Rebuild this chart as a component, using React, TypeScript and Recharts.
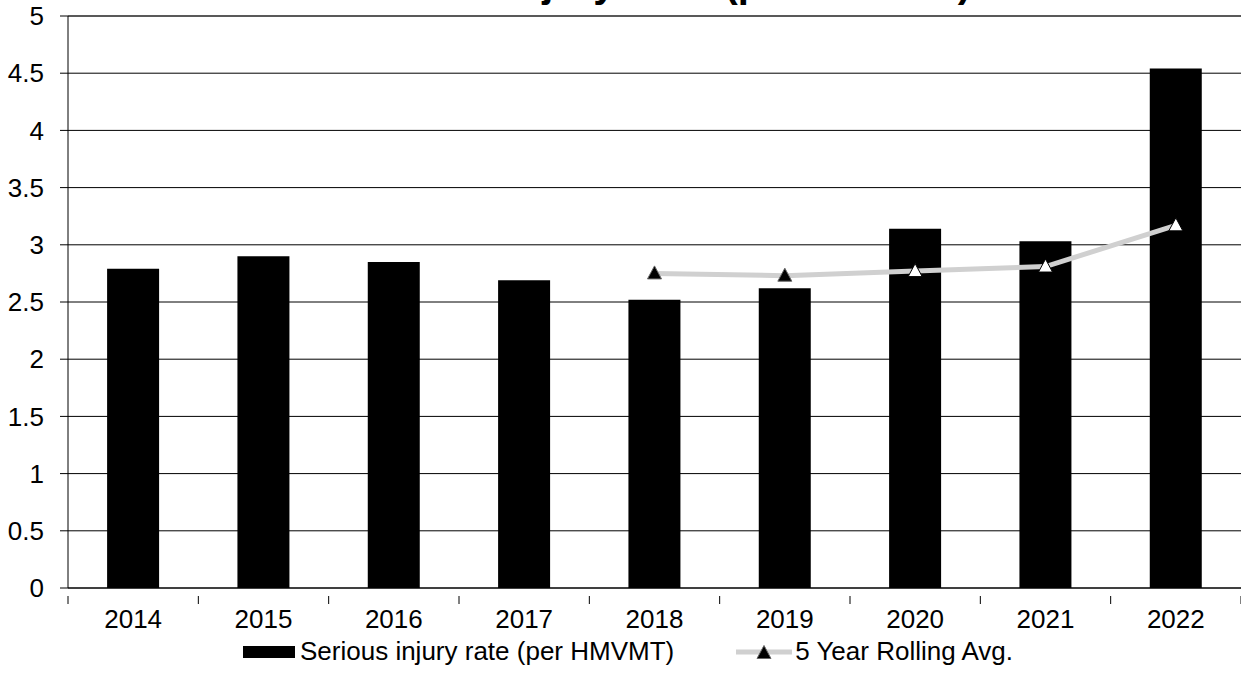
import React from 'react';
import {
  ComposedChart,
  Bar,
  Line,
  XAxis,
  YAxis,
  CartesianGrid,
  ReferenceLine,
  Legend,
  Customized,
} from 'recharts';

const years = ['2014', '2015', '2016', '2017', '2018', '2019', '2020', '2021', '2022'];
const injuryRate = [2.79, 2.9, 2.85, 2.69, 2.52, 2.62, 3.14, 3.03, 4.54];
const rollingAvg = [null, null, null, null, 2.75, 2.73, 2.77, 2.81, 3.17];
const yTicks = [0, 0.5, 1, 1.5, 2, 2.5, 3, 3.5, 4, 4.5, 5];

const titleText = 'Serious Injury Rate (per HMVMT)';
const barName = 'Serious injury rate (per HMVMT)';
const lineName = '5 Year Rolling Avg.';

const data = years.map((y, i) => ({ year: y, rate: injuryRate[i], avg: rollingAvg[i] }));

const W = 1241;
const H = 697;
const FONT = 'Liberation Sans, Arial, sans-serif';

const Triangle = ({ cx, cy, fill }: { cx: number; cy: number; fill: string }) => (
  <path
    d={`M${cx},${cy - 7.5} L${cx + 7},${cy + 5.5} L${cx - 7},${cy + 5.5} Z`}
    fill={fill}
    stroke={fill === '#000' ? '#666' : '#000'}
    strokeWidth={1}
  />
);

const Dot = (props: any) => {
  const { cx, cy, payload, index } = props;
  if (payload == null || payload.avg == null || cx == null || cy == null) {
    return <g key={`d${index}`} />;
  }
  const fill = payload.rate > payload.avg ? '#fff' : '#000';
  return <Triangle key={`d${index}`} cx={cx} cy={cy} fill={fill} />;
};

const XTick = (props: any) => {
  const { x, y, payload, index, visibleTicksCount } = props;
  const half = payload && payload.offset ? payload.offset : 65.2;
  const last = index === (visibleTicksCount ?? years.length) - 1;
  return (
    <g>
      <line x1={x - half} x2={x - half} y1={y} y2={y + 8} stroke="#000" strokeWidth={1} />
      {last && <line x1={x + half} x2={x + half} y1={y} y2={y + 8} stroke="#000" strokeWidth={1} />}
      <text x={x} y={y + 14} dy="0.71em" textAnchor="middle" fontSize={26} fill="#000">
        {payload.value}
      </text>
    </g>
  );
};

const LegendContent = () => (
  <div
    style={{
      display: 'flex',
      alignItems: 'center',
      marginLeft: 243,
      fontSize: 26,
      color: '#000',
      fontFamily: FONT,
      whiteSpace: 'nowrap',
    }}
  >
    <svg width={52} height={14} style={{ display: 'block' }}>
      <rect x={0} y={1} width={52} height={12} fill="#000" />
    </svg>
    <span style={{ marginLeft: 5 }}>{barName}</span>
    <svg width={56} height={20} style={{ display: 'block', marginLeft: 62 }}>
      <line x1={0} x2={56} y1={10} y2={10} stroke="#d0d0d0" strokeWidth={5} />
      <Triangle cx={28} cy={11} fill="#000" />
    </svg>
    <span style={{ marginLeft: 3 }}>{lineName}</span>
  </div>
);

const Title = () => (
  <text
    x={660}
    y={-3}
    textAnchor="middle"
    fontSize={40}
    fontWeight="bold"
    fill="#000"
    fontFamily={FONT}
  >
    {titleText}
  </text>
);

export default function App() {
  return (
    <div
      style={{
        position: 'absolute',
        left: 0,
        top: 0,
        width: W,
        height: H,
        background: '#fff',
        fontFamily: FONT,
      }}
    >
      <ComposedChart
        width={W}
        height={H}
        data={data}
        margin={{ top: 16, right: 0, bottom: 69, left: 0 }}
        barCategoryGap="30%"
      >
        <CartesianGrid vertical={false} stroke="#000" strokeWidth={1} />
        <XAxis
          dataKey="year"
          axisLine={{ stroke: '#000', strokeWidth: 1 }}
          tickLine={false}
          tick={<XTick />}
          height={40}
          interval={0}
        />
        <YAxis
          domain={[0, 5]}
          ticks={yTicks}
          width={68}
          tickSize={8}
          tickMargin={16}
          axisLine={{ stroke: '#000', strokeWidth: 1 }}
          tickLine={{ stroke: '#000', strokeWidth: 1 }}
          tick={{ fontSize: 26, fill: '#000' }}
          interval={0}
        />
        <ReferenceLine y={5} stroke="#595959" strokeWidth={2} />
        <Bar dataKey="rate" name={barName} fill="#000" isAnimationActive={false} />
        <Line
          dataKey="avg"
          name={lineName}
          type="linear"
          stroke="#d0d0d0"
          strokeWidth={5}
          dot={<Dot />}
          activeDot={false}
          connectNulls={false}
          isAnimationActive={false}
        />
        <Legend
          layout="horizontal"
          verticalAlign="middle"
          align="center"
          wrapperStyle={{ top: 636, left: 0, width: W }}
          content={<LegendContent />}
        />
        <Customized component={<Title />} />
      </ComposedChart>
    </div>
  );
}
